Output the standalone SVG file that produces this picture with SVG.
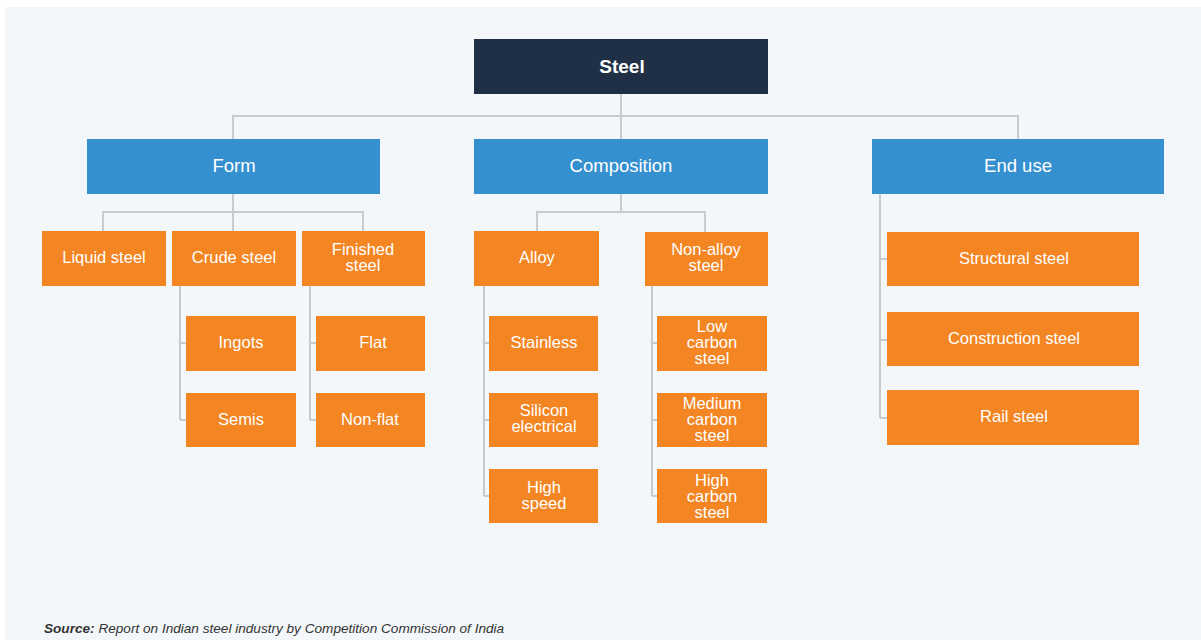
<svg xmlns="http://www.w3.org/2000/svg" width="1201" height="640" viewBox="0 0 1201 640">
<style>
.bg{fill:#f3f7f9}
.root{fill:#1f3046}
.cat{fill:#3590d0}
.leaf{fill:#f38522}
text{font-family:"Liberation Sans",Arial,sans-serif;fill:#ffffff;text-anchor:middle;font-size:16.5px}
.ct{font-size:18.5px}
.rt{font-size:19px;font-weight:bold}
.conn path{fill:none;stroke:#c8cacc;stroke-width:2}
.src{fill:#333333;text-anchor:start;font-size:13.6px;font-style:italic}
</style>
<rect x="0" y="0" width="1201" height="640" fill="#ffffff"/>
<rect class="bg" x="5" y="7" width="1196" height="633"/>
<g class="conn" id="connectors">
<path d="M621 94V116M233 139V116H1018V139M621 116V139"/>
<path d="M233 194V212M103 231V212H363V231M233 212V231"/>
<path d="M180 286V420M180 343H186M180 420H186"/>
<path d="M310 286V420M310 343H316M310 420H316"/>
<path d="M621 194V212M537 231V212H705V232"/>
<path d="M484 286V496M484 343H489M484 420H489M484 496H489"/>
<path d="M652 286V496M652 343H657M652 420H657M652 496H657"/>
<path d="M880 194V418M880 259H887M880 340H887M880 418H887"/>
</g>
<g id="n-steel"><rect class="root" x="474" y="39" width="294" height="55"/><text class="rt" x="622" y="73">Steel</text></g>
<g id="n-form"><rect class="cat" x="87" y="139" width="293" height="55"/><text class="ct" x="234" y="172">Form</text></g>
<g id="n-composition"><rect class="cat" x="474" y="139" width="294" height="55"/><text class="ct" x="621" y="172">Composition</text></g>
<g id="n-enduse"><rect class="cat" x="872" y="139" width="292" height="55"/><text class="ct" x="1018" y="172">End use</text></g>
<g id="n-liquid"><rect class="leaf" x="42" y="231" width="124" height="55"/><text x="104" y="263">Liquid steel</text></g>
<g id="n-crude"><rect class="leaf" x="172" y="231" width="124" height="55"/><text x="234" y="263">Crude steel</text></g>
<g id="n-finished"><rect class="leaf" x="302" y="231" width="123" height="55"/><text x="363" y="255">Finished</text><text x="363" y="271">steel</text></g>
<g id="n-ingots"><rect class="leaf" x="186" y="316" width="110" height="55"/><text x="241" y="348">Ingots</text></g>
<g id="n-semis"><rect class="leaf" x="186" y="393" width="110" height="54"/><text x="241" y="425">Semis</text></g>
<g id="n-flat"><rect class="leaf" x="316" y="316" width="109" height="55"/><text x="373" y="348">Flat</text></g>
<g id="n-nonflat"><rect class="leaf" x="316" y="393" width="109" height="54"/><text x="370" y="425">Non-flat</text></g>
<g id="n-alloy"><rect class="leaf" x="474" y="231" width="125" height="55"/><text x="537" y="263">Alloy</text></g>
<g id="n-nonalloy"><rect class="leaf" x="645" y="232" width="123" height="54"/><text x="706" y="255">Non-alloy</text><text x="706" y="271">steel</text></g>
<g id="n-stainless"><rect class="leaf" x="489" y="316" width="109" height="55"/><text x="544" y="348">Stainless</text></g>
<g id="n-silicon"><rect class="leaf" x="489" y="393" width="109" height="54"/><text x="544" y="416">Silicon</text><text x="544" y="432">electrical</text></g>
<g id="n-highspeed"><rect class="leaf" x="489" y="469" width="109" height="54"/><text x="544" y="493">High</text><text x="544" y="509">speed</text></g>
<g id="n-lowcarbon"><rect class="leaf" x="657" y="316" width="110" height="55"/><text x="712" y="332">Low</text><text x="712" y="348">carbon</text><text x="712" y="364">steel</text></g>
<g id="n-medcarbon"><rect class="leaf" x="657" y="393" width="110" height="54"/><text x="712" y="409">Medium</text><text x="712" y="425">carbon</text><text x="712" y="441">steel</text></g>
<g id="n-highcarbon"><rect class="leaf" x="657" y="469" width="110" height="54"/><text x="712" y="486">High</text><text x="712" y="502">carbon</text><text x="712" y="518">steel</text></g>
<g id="n-structural"><rect class="leaf" x="887" y="232" width="252" height="54"/><text x="1014" y="264">Structural steel</text></g>
<g id="n-construction"><rect class="leaf" x="887" y="312" width="252" height="54"/><text x="1014" y="344">Construction steel</text></g>
<g id="n-rail"><rect class="leaf" x="887" y="390" width="252" height="55"/><text x="1014" y="422">Rail steel</text></g>
<text class="src" x="44" y="633"><tspan font-weight="bold">Source:</tspan> Report on Indian steel industry by Competition Commission of India</text>
</svg>
